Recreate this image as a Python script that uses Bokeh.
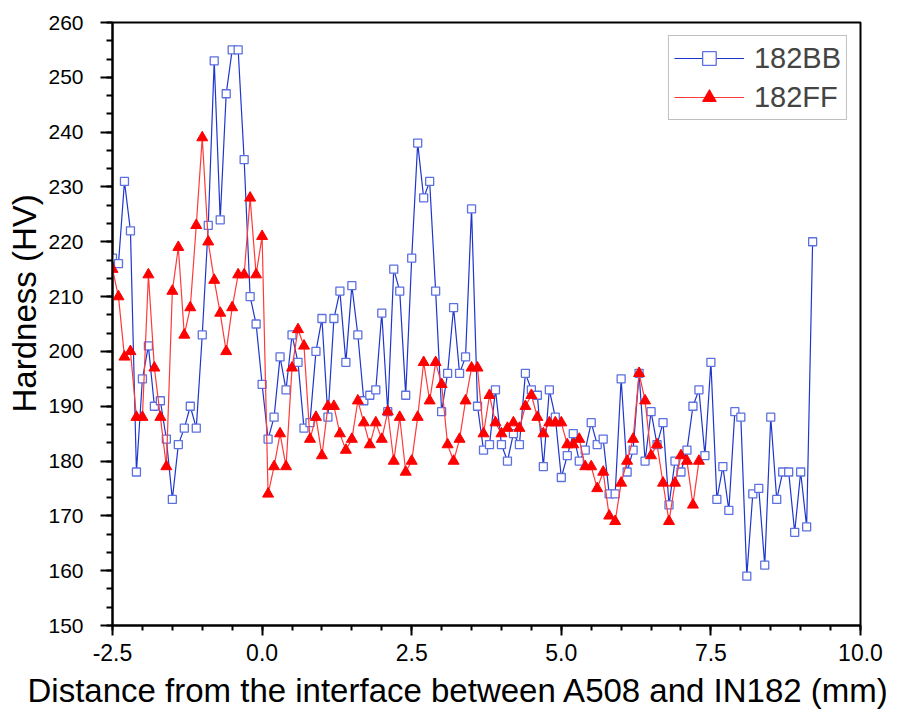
from bokeh.plotting import figure
from bokeh.models import SingleIntervalTicker, NumeralTickFormatter, Range1d, Legend, LegendItem, Title
from bokeh.embed import file_html
from bokeh.resources import INLINE

# 182BB series
bb_x = [-2.5, -2.4, -2.3, -2.2, -2.1, -2.0, -1.9, -1.8, -1.7, -1.6, -1.5, -1.4, -1.3, -1.2, -1.1, -1.0,
        -0.9, -0.8, -0.7, -0.6, -0.5, -0.4, -0.3, -0.2, -0.1, 0.0, 0.1, 0.2, 0.3, 0.4, 0.5, 0.6, 0.7,
        0.8, 0.9, 1.0, 1.1, 1.2, 1.3, 1.4, 1.5, 1.6, 1.7, 1.8, 1.9, 2.0, 2.1, 2.2, 2.3, 2.4, 2.5, 2.6,
        2.7, 2.8, 2.9, 3.0, 3.1, 3.2, 3.3, 3.4, 3.5, 3.6, 3.7, 3.8, 3.9, 4.0, 4.1, 4.2, 4.3, 4.4, 4.5,
        4.6, 4.7, 4.8, 4.9, 5.0, 5.1, 5.2, 5.3, 5.4, 5.5, 5.6, 5.7, 5.8, 5.9, 6.0, 6.1, 6.2, 6.3, 6.4,
        6.5, 6.6, 6.7, 6.8, 6.9, 7.0, 7.1, 7.2, 7.3, 7.4, 7.5, 7.6, 7.7, 7.8, 7.9, 8.0, 8.1, 8.2, 8.3,
        8.4, 8.5, 8.6, 8.7, 8.8, 8.9, 9.0, 9.1, 9.2]
bb_y = [217, 216, 231, 222, 178, 195, 201, 190, 191, 184, 173, 183, 186, 190, 186, 203,
        223, 253, 224, 247, 255, 255, 235, 210, 205, 194, 184, 188, 199, 193, 203, 198, 186,
        187, 200, 206, 188, 206, 211, 198, 212, 203, 191, 192, 193, 207, 189, 215, 211, 192, 217, 238,
        228, 231, 211, 189, 196, 208, 196, 199, 226, 190, 182, 183, 193, 183, 180, 185, 183, 196, 193,
        192, 179, 193, 188, 177, 181, 185, 180, 182, 187, 183, 184, 174, 174, 195, 178, 182, 196, 180,
        189, 183, 187, 172, 180, 178, 182, 190, 193, 181, 198, 173, 179, 171, 189, 188, 159, 174, 175,
        161, 188, 173, 178, 178, 167, 178, 168, 220]

# 182FF series
ff_x = [-2.5, -2.4, -2.3, -2.2, -2.1, -2.0, -1.9, -1.8, -1.7, -1.6, -1.5, -1.4, -1.3, -1.2, -1.1, -1.0,
        -0.9, -0.8, -0.7, -0.6, -0.5, -0.4, -0.3, -0.2, -0.1, 0.0, 0.1, 0.2, 0.3, 0.4, 0.5, 0.6, 0.7,
        0.8, 0.9, 1.0, 1.1, 1.2, 1.3, 1.4, 1.5, 1.6, 1.7, 1.8, 1.9, 2.0, 2.1, 2.2, 2.3, 2.4, 2.5, 2.6,
        2.7, 2.8, 2.9, 3.0, 3.1, 3.2, 3.3, 3.4, 3.5, 3.6, 3.7, 3.8, 3.9, 4.0, 4.1, 4.2, 4.3, 4.4, 4.5,
        4.6, 4.7, 4.8, 4.9, 5.0, 5.1, 5.2, 5.3, 5.4, 5.5, 5.6, 5.7, 5.8, 5.9, 6.0, 6.1, 6.2, 6.3, 6.4,
        6.5, 6.6, 6.7, 6.8, 6.9, 7.0, 7.1, 7.2, 7.3]
ff_y = [215, 210, 199, 200, 188, 188, 214, 197, 188, 179, 211, 219, 203, 208, 223, 239,
        220, 213, 207, 200, 208, 214, 214, 228, 214, 221, 174, 179, 185, 179, 197, 204, 201,
        184, 188, 181, 190, 190, 185, 182, 184, 191, 187, 183, 187, 184, 189, 180, 188, 178, 180, 188,
        198, 191, 198, 194, 183, 180, 184, 191, 197, 197, 185, 192, 187, 185, 186, 187, 186, 190, 192,
        188, 185, 187, 187, 187, 183, 183, 184, 179, 179, 175, 178, 170, 169, 176, 180, 184, 196, 191,
        181, 183, 176, 169, 176, 181, 180, 172, 180]

x_label = "Distance from the interface between A508 and IN182 (mm)"
y_label = "Hardness (HV)"

FONT = "Liberation Sans"

p = figure(width=899, height=722, output_backend="svg", toolbar_location=None,
           x_range=Range1d(-2.5, 10.0), y_range=Range1d(150, 260),
           min_border_left=112, min_border_right=39, min_border_top=22, min_border_bottom=97)
p.background_fill_color = "white"
p.border_fill_color = "white"
p.grid.visible = False
p.outline_line_color = "black"
p.outline_line_width = 2

bb_line = p.line(bb_x, bb_y, line_color="#1e36cc", line_width=1.2)
bb_pts = p.scatter(bb_x, bb_y, marker="square", size=8, fill_color="white",
                   line_color="#5d70e0", line_width=1.3)
ff_line = p.line(ff_x, ff_y, line_color="#ff3a3a", line_width=1.2)
ff_pts = p.scatter(ff_x, ff_y, marker="triangle", size=11, fill_color="#ff0000",
                   line_color="#ff0000", line_width=1)

for ax in (p.xaxis[0], p.yaxis[0]):
    ax.axis_line_width = 2
    ax.axis_line_color = "black"
    ax.major_tick_line_width = 2
    ax.minor_tick_line_width = 2
    ax.major_tick_line_color = "black"
    ax.minor_tick_line_color = "black"
    ax.major_tick_in = 0
    ax.minor_tick_in = 0
    ax.major_label_text_font = FONT
    ax.major_label_text_color = "black"

p.xaxis.ticker = SingleIntervalTicker(interval=2.5, num_minor_ticks=5)
p.yaxis.ticker = SingleIntervalTicker(interval=10, num_minor_ticks=3)
p.xaxis.formatter = NumeralTickFormatter(format="0.0")
p.xaxis.major_tick_out = 10
p.xaxis.minor_tick_out = 5
p.yaxis.major_tick_out = 12
p.yaxis.minor_tick_out = 6
p.xaxis.major_label_text_font_size = "23px"
p.yaxis.major_label_text_font_size = "21px"
p.xaxis.major_label_standoff = 8
p.yaxis.major_label_standoff = 17

# axis titles as side titles, shifted along the axis as in the reference
xt = Title(text=x_label, align="left", offset=-85, standoff=12,
           text_font=FONT, text_font_size="33px", text_font_style="normal", text_color="black")
yt = Title(text=y_label, align="left", offset=213, standoff=6,
           text_font=FONT, text_font_size="33px", text_font_style="normal", text_color="black")
p.add_layout(xt, "below")
p.add_layout(yt, "left")

legend = Legend(items=[LegendItem(label="182BB", renderers=[bb_line, bb_pts]),
                       LegendItem(label="182FF", renderers=[ff_line, ff_pts])],
                location="top_right")
legend.label_text_font = FONT
legend.label_text_font_size = "29px"
legend.glyph_width = 70
legend.glyph_height = 34
legend.label_height = 34
legend.label_standoff = 10
legend.padding = 5
legend.spacing = 5
legend.margin = 13
legend.border_line_color = "#808080"
legend.border_line_width = 1.5
legend.background_fill_color = "white"
legend.background_fill_alpha = 1
p.add_layout(legend)

open("out.html", "w").write(file_html(p, INLINE))
